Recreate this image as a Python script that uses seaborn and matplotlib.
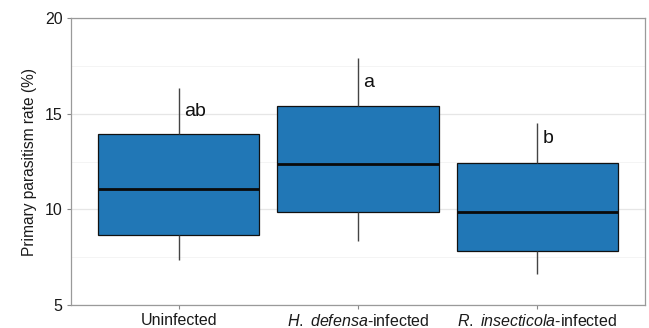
import matplotlib
matplotlib.use("Agg")
import matplotlib.pyplot as plt
import seaborn as sns
import pandas as pd
from matplotlib.ticker import MultipleLocator

# Five-number summaries per group: whisker low, Q1, median, Q3, whisker high
groups = ["Uninfected", "H. defensa-infected", "R. insecticola-infected"]
uninfected = [7.35, 8.66, 11.06, 13.94, 16.34]
h_defensa = [8.35, 9.86, 12.37, 15.40, 17.90]
r_insecticola = [6.62, 7.82, 9.86, 12.42, 14.50]
letters = ["ab", "a", "b"]
letter_y = [14.88, 16.40, 13.47]

tick_labels = ["Uninfected", r"$\it{H.\ defensa}$-infected", r"$\it{R.\ insecticola}$-infected"]

df = pd.DataFrame({
    "group": [g for g, vals in zip(groups, [uninfected, h_defensa, r_insecticola]) for _ in vals],
    "rate": uninfected + h_defensa + r_insecticola,
})

sns.set_theme(style="white")
plt.rcParams["font.family"] = ["Liberation Sans", "DejaVu Sans"]
plt.rcParams["mathtext.fontset"] = "custom"
plt.rcParams["mathtext.it"] = "Liberation Sans:italic"
plt.rcParams["mathtext.rm"] = "Liberation Sans"

fig = plt.figure(figsize=(6.49, 3.28), dpi=100)
ax = fig.add_axes([0.1094, 0.0701, 0.8844, 0.8750])

ax.yaxis.set_minor_locator(MultipleLocator(2.5))
ax.grid(True, which="major", color="#e6e6e6", linewidth=0.9, zorder=0)
ax.grid(True, which="minor", axis="y", color="#f2f2f2", linewidth=0.6, zorder=0)
ax.set_axisbelow(True)

sns.boxplot(
    data=df, x="group", y="rate", order=groups, ax=ax,
    color="#1f77b4", saturation=1, width=0.9, whis=(0, 100),
    linewidth=0.9, linecolor="#111111",
    boxprops=dict(edgecolor="#111111", facecolor="#2177b6"),
    whiskerprops=dict(color="#444444", linewidth=1.0),
    capprops=dict(linewidth=0),
    medianprops=dict(color="#0a0a0a", linewidth=2.0),
    showfliers=False,
)

for i, (lab, yv) in enumerate(zip(letters, letter_y)):
    ax.text(i + 0.03, yv, lab, fontsize=14, ha="left", va="baseline", color="#111111")

ax.set_xlim(-0.6, 2.6)
ax.set_ylim(5, 20)
ax.set_yticks([5, 10, 15, 20])
ax.set_xticks([0, 1, 2])
ax.set_xticklabels(tick_labels)
ax.set_xlabel("")
ax.set_ylabel("Primary parasitism rate (%)", fontsize=11.2, color="#1a1a1a", labelpad=6)
ax.tick_params(axis="both", which="major", labelsize=11.5, labelcolor="#1a1a1a",
               length=3, width=0.8, color="#888888", direction="out", pad=3)
ax.tick_params(axis="y", which="minor", length=0)
ax.tick_params(left=True, bottom=True)
for s in ax.spines.values():
    s.set_color("#9a9a9a")
    s.set_linewidth(0.9)

fig.savefig("out.png", dpi=100)
